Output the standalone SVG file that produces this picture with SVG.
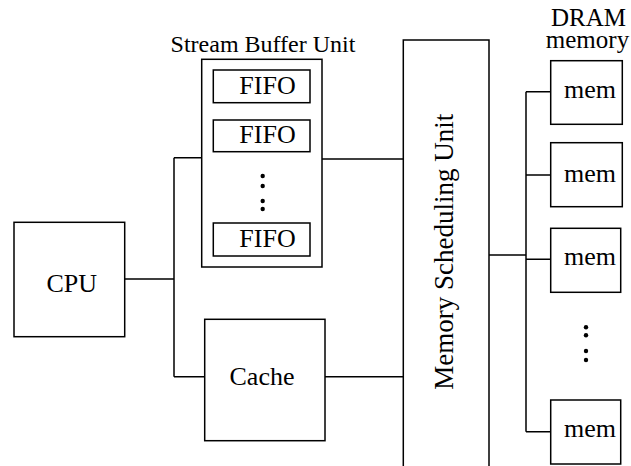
<svg xmlns="http://www.w3.org/2000/svg" width="631" height="466" viewBox="0 0 631 466">
<style>
.b{fill:#fff;stroke:#000;stroke-width:1.5}
.l{fill:none;stroke:#000;stroke-width:1.5}
.t{font-family:Liberation Serif,Times New Roman,Times,DejaVu Serif,serif;font-size:26px;fill:#000;text-anchor:middle}
.s24{font-size:24px}
.s25{font-size:25px}
.s27{font-size:27px}
.d{fill:#000}
</style>
<rect width="631" height="466" fill="#fff"/>
<g id="connectors">
<path class="l" d="M125 279H174M174 157.7V376.7M174 157.7H202M174 376.7H204.7"/>
<path class="l" d="M322 159H403.3M325 376.7H403.3"/>
<path class="l" d="M489 255H526M526 91.7V431.7M526 91.7H550.7M526 175H550.7M526 259.3H550.7M526 431.7H550.7"/>
</g>
<g id="cpu">
<rect class="b" x="14" y="222.3" width="110.7" height="114.4"/>
<text class="t" x="71.7" y="291.7">CPU</text>
</g>
<g id="stream-buffer-unit">
<text class="t s24" x="263" y="51.7">Stream Buffer Unit</text>
<rect class="b" x="201.7" y="59.3" width="120.3" height="207.7"/>
<g id="fifo1"><rect class="b" x="213.3" y="70" width="96.7" height="32.7"/><text class="t" x="267.5" y="94.3">FIFO</text></g>
<g id="fifo2"><rect class="b" x="213.3" y="120" width="96.7" height="31.7"/><text class="t" x="267.5" y="143.3">FIFO</text></g>
<circle class="d" cx="262.7" cy="176" r="2.2"/>
<circle class="d" cx="262.7" cy="186" r="2.2"/>
<circle class="d" cx="262.7" cy="201" r="2.2"/>
<circle class="d" cx="262.7" cy="209" r="2.2"/>
<g id="fifo3"><rect class="b" x="213.3" y="223" width="96.7" height="33"/><text class="t" x="267.5" y="246.7">FIFO</text></g>
</g>
<g id="cache">
<rect class="b" x="204.7" y="319.3" width="120.3" height="121.4"/>
<text class="t" x="262" y="385">Cache</text>
</g>
<g id="memory-scheduling-unit">
<path class="l" d="M403.3 466V40H489V466"/>
<text class="t s27" transform="translate(453 251.7) rotate(-90)">Memory Scheduling Unit</text>
</g>
<g id="dram">
<text class="t s25" x="588.5" y="26">DRAM</text>
<text class="t s25" x="587.5" y="47.7">memory</text>
<g id="mem1"><rect class="b" x="550.7" y="60.7" width="71.6" height="63.6"/><text class="t" x="590" y="98.3">mem</text></g>
<g id="mem2"><rect class="b" x="550.7" y="142.7" width="71.6" height="64"/><text class="t" x="590" y="181.7">mem</text></g>
<g id="mem3"><rect class="b" x="550.7" y="228.3" width="70" height="64"/><text class="t" x="590" y="265">mem</text></g>
<circle class="d" cx="586" cy="327.3" r="2.2"/>
<circle class="d" cx="586" cy="335.3" r="2.2"/>
<circle class="d" cx="586" cy="351" r="2.2"/>
<circle class="d" cx="586" cy="360" r="2.2"/>
<g id="mem4"><rect class="b" x="550.7" y="400" width="70" height="64"/><text class="t" x="590" y="436.7">mem</text></g>
</g>
</svg>
